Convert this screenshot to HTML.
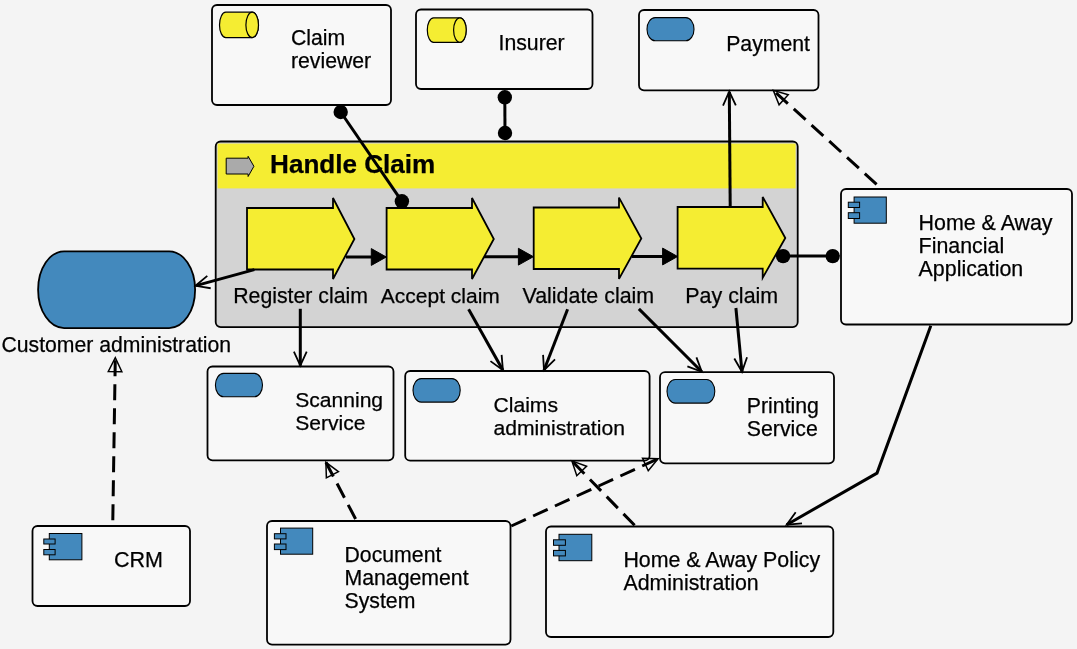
<!DOCTYPE html>
<html><head><meta charset="utf-8"><style>
html,body{margin:0;padding:0;background:#f4f4f4;}
svg{display:block;font-family:"Liberation Sans", sans-serif;will-change:transform;}
</style></head><body>
<svg width="1077" height="649" viewBox="0 0 1077 649">
<rect x="0" y="0" width="1077" height="649" fill="#f4f4f4"/>
<rect x="215.7" y="141.5" width="582" height="185.6" rx="5" fill="#d3d3d3" stroke="#000" stroke-width="1.8"/>
<rect x="217.6" y="143.6" width="578" height="44.8" fill="#f5ed32"/>
<path d="M226.2,158.2 L248.1,158.2 L248.1,156.3 L253.9,166.3 L248.1,176.5 L248.1,174 L226.2,174 Z" fill="#aaa" stroke="#000" stroke-width="1"/>
<path d="M247,208 L333,208 L333,198 L354.4,239 L333,279 L333,269.5 L247,269.5 Z" fill="#f5ed32" stroke="#000" stroke-width="1.8" stroke-linejoin="miter"/>
<path d="M386.6,208 L472,208 L472,198 L493.8,239 L472,279 L472,269.5 L386.6,269.5 Z" fill="#f5ed32" stroke="#000" stroke-width="1.8" stroke-linejoin="miter"/>
<path d="M533.7,207.5 L619,207.5 L619,197.6 L641.3,238.5 L619,278.9 L619,269 L533.7,269 Z" fill="#f5ed32" stroke="#000" stroke-width="1.8" stroke-linejoin="miter"/>
<path d="M677.6,207 L762.7,207 L762.7,197 L785.3,238 L762.7,277.8 L762.7,268.6 L677.6,268.6 Z" fill="#f5ed32" stroke="#000" stroke-width="1.8" stroke-linejoin="miter"/>
<rect x="212" y="5" width="179" height="100" rx="5" fill="#f8f8f8" stroke="#000" stroke-width="1.8"/>
<path d="M225.8,12.2 L252.2,12.2 A6.3,12.700000000000001 0 0 1 252.2,37.6 L225.8,37.6 A6.3,12.700000000000001 0 0 1 225.8,12.2 Z" fill="#f5ed32" stroke="#000" stroke-width="1.2"/>
<ellipse cx="252.2" cy="24.9" rx="6.3" ry="12.700000000000001" fill="#f5ed32" stroke="#000" stroke-width="1.2"/>
<rect x="416" y="9.5" width="176.5" height="79.5" rx="5" fill="#f8f8f8" stroke="#000" stroke-width="1.8"/>
<path d="M433.6,17.8 L459.9,17.8 A6.3,12.249999999999998 0 0 1 459.9,42.3 L433.6,42.3 A6.3,12.249999999999998 0 0 1 433.6,17.8 Z" fill="#f5ed32" stroke="#000" stroke-width="1.2"/>
<ellipse cx="459.9" cy="30.049999999999997" rx="6.3" ry="12.249999999999998" fill="#f5ed32" stroke="#000" stroke-width="1.2"/>
<rect x="639" y="10" width="179.5" height="80.3" rx="5" fill="#f8f8f8" stroke="#000" stroke-width="1.8"/>
<rect x="647" y="17.6" width="47" height="23.1" rx="8.2" ry="11.55" fill="#4389bd" stroke="#000" stroke-width="1.1"/>
<rect x="841" y="189" width="231" height="135.5" rx="5" fill="#f8f8f8" stroke="#000" stroke-width="1.8"/>
<rect x="854.1" y="197" width="32.19999999999993" height="26.19999999999999" fill="#4389bd" stroke="#000" stroke-width="1"/>
<rect x="848.3" y="202.2" width="11.300000000000068" height="5.300000000000011" fill="#4389bd" stroke="#000" stroke-width="1"/>
<rect x="848.3" y="212.7" width="11.300000000000068" height="5.800000000000011" fill="#4389bd" stroke="#000" stroke-width="1"/>
<rect x="207.5" y="366.5" width="186.0" height="93.80000000000001" rx="5" fill="#f8f8f8" stroke="#000" stroke-width="1.8"/>
<rect x="215.4" y="373.4" width="47.099999999999994" height="23.400000000000034" rx="8.2" ry="11.700000000000017" fill="#4389bd" stroke="#000" stroke-width="1.1"/>
<rect x="405.2" y="371" width="244.40000000000003" height="89.69999999999999" rx="5" fill="#f8f8f8" stroke="#000" stroke-width="1.8"/>
<rect x="413" y="378.6" width="47.19999999999999" height="23.5" rx="8.2" ry="11.75" fill="#4389bd" stroke="#000" stroke-width="1.1"/>
<rect x="660" y="372.2" width="174" height="91.10000000000002" rx="5" fill="#f8f8f8" stroke="#000" stroke-width="1.8"/>
<rect x="667" y="379.5" width="47.799999999999955" height="23.600000000000023" rx="8.2" ry="11.800000000000011" fill="#4389bd" stroke="#000" stroke-width="1.1"/>
<rect x="32.5" y="526" width="157.5" height="80" rx="5" fill="#f8f8f8" stroke="#000" stroke-width="1.8"/>
<rect x="49.3" y="533.5" width="32.60000000000001" height="26.299999999999955" fill="#4389bd" stroke="#000" stroke-width="1"/>
<rect x="43.8" y="539" width="11.300000000000004" height="5" fill="#4389bd" stroke="#000" stroke-width="1"/>
<rect x="43.8" y="549.5" width="11.300000000000004" height="5.2999999999999545" fill="#4389bd" stroke="#000" stroke-width="1"/>
<rect x="267" y="521" width="243.5" height="123.60000000000002" rx="5" fill="#f8f8f8" stroke="#000" stroke-width="1.8"/>
<rect x="280.5" y="528.1" width="32.19999999999999" height="26.100000000000023" fill="#4389bd" stroke="#000" stroke-width="1"/>
<rect x="274.4" y="533.7" width="11.600000000000023" height="5.199999999999932" fill="#4389bd" stroke="#000" stroke-width="1"/>
<rect x="274.4" y="544" width="11.600000000000023" height="5.600000000000023" fill="#4389bd" stroke="#000" stroke-width="1"/>
<rect x="546" y="526.5" width="287.29999999999995" height="110.5" rx="5" fill="#f8f8f8" stroke="#000" stroke-width="1.8"/>
<rect x="559" y="534.3" width="32.799999999999955" height="26.40000000000009" fill="#4389bd" stroke="#000" stroke-width="1"/>
<rect x="553.5" y="539.8" width="11.899999999999977" height="5.5" fill="#4389bd" stroke="#000" stroke-width="1"/>
<rect x="553.5" y="550.4" width="11.899999999999977" height="5.5" fill="#4389bd" stroke="#000" stroke-width="1"/>
<rect x="38.1" y="251.3" width="157" height="76.8" rx="26" ry="38.4" fill="#4389bd" stroke="#000" stroke-width="1.8"/>
<path d="M340.7,112 L401.9,201.3" fill="none" stroke="#000" stroke-width="3"/>
<circle cx="340.7" cy="112" r="7.2" fill="#000"/>
<circle cx="401.9" cy="201.3" r="7.2" fill="#000"/>
<path d="M504.8,97.3 L505,133" fill="none" stroke="#000" stroke-width="3"/>
<circle cx="504.8" cy="97.3" r="7.2" fill="#000"/>
<circle cx="505" cy="133" r="7.2" fill="#000"/>
<path d="M730.2,206 L729.3,92" fill="none" stroke="#000" stroke-width="3"/>
<path d="M735.81,105.45 L729.3,91.5 L723.01,105.55" fill="none" stroke="#000" stroke-width="1.8"/>
<path d="M783.1,256.1 L832.7,256.1" fill="none" stroke="#000" stroke-width="3"/>
<circle cx="783.1" cy="256.1" r="7.2" fill="#000"/>
<circle cx="832.7" cy="256.1" r="7.2" fill="#000"/>
<path d="M345.8,257 L376.3,257" fill="none" stroke="#000" stroke-width="3"/>
<path d="M371.30,265.40 L386.3,257 L371.30,248.60 Z" fill="#000" stroke="#000" stroke-width="1"/>
<path d="M484,256.7 L523.4,256.7" fill="none" stroke="#000" stroke-width="3"/>
<path d="M518.40,265.10 L533.4,256.7 L518.40,248.30 Z" fill="#000" stroke="#000" stroke-width="1"/>
<path d="M632,256.5 L667.6,256.5" fill="none" stroke="#000" stroke-width="3"/>
<path d="M662.60,264.90 L677.6,256.5 L662.60,248.10 Z" fill="#000" stroke="#000" stroke-width="1"/>
<path d="M254.4,269.6 L196,285.6" fill="none" stroke="#000" stroke-width="3"/>
<path d="M207.30,275.92 L195.5,285.8 L210.70,288.26" fill="none" stroke="#000" stroke-width="1.8"/>
<path d="M300.3,308.8 L300.3,365.7" fill="none" stroke="#000" stroke-width="3"/>
<path d="M293.90,351.70 L300.3,365.7 L306.70,351.70" fill="none" stroke="#000" stroke-width="1.8"/>
<path d="M468.6,309.2 L502.9,370.2" fill="none" stroke="#000" stroke-width="3"/>
<path d="M490.46,361.13 L502.9,370.2 L501.62,354.86" fill="none" stroke="#000" stroke-width="1.8"/>
<path d="M567.6,309.2 L544,370.2" fill="none" stroke="#000" stroke-width="3"/>
<path d="M543.08,354.83 L544,370.2 L555.02,359.45" fill="none" stroke="#000" stroke-width="1.8"/>
<path d="M638.9,308.9 L701.8,371.8" fill="none" stroke="#000" stroke-width="3"/>
<path d="M687.38,366.43 L701.8,371.8 L696.43,357.38" fill="none" stroke="#000" stroke-width="1.8"/>
<path d="M735.9,308 L742,371.8" fill="none" stroke="#000" stroke-width="3"/>
<path d="M734.30,358.47 L742,371.8 L747.04,357.25" fill="none" stroke="#000" stroke-width="1.8"/>
<path d="M930.8,325.8 L877,473.1 L786.7,524.7" fill="none" stroke="#000" stroke-width="3"/>
<path d="M795.68,512.20 L786.7,524.7 L802.03,523.31" fill="none" stroke="#000" stroke-width="1.8"/>
<path d="M876.6,184.3 L773.3,90.3" fill="none" stroke="#000" stroke-width="3" stroke-dasharray="16 8"/>
<path d="M788.23,94.69 L773.3,90.3 L779.08,104.75 Z" fill="none" stroke="#000" stroke-width="1.5" stroke-linejoin="miter"/>
<path d="M112.8,520.2 L115.3,357.6" fill="none" stroke="#000" stroke-width="3" stroke-dasharray="16 8"/>
<path d="M121.88,371.70 L115.3,357.6 L108.29,371.49 Z" fill="none" stroke="#000" stroke-width="1.5" stroke-linejoin="miter"/>
<path d="M355.6,519 L325.9,462.3" fill="none" stroke="#000" stroke-width="3" stroke-dasharray="16 8"/>
<path d="M338.42,471.55 L325.9,462.3 L326.37,477.86 Z" fill="none" stroke="#000" stroke-width="1.5" stroke-linejoin="miter"/>
<path d="M511.3,526 L658.1,458.7" fill="none" stroke="#000" stroke-width="3" stroke-dasharray="16 8"/>
<path d="M648.21,470.72 L658.1,458.7 L642.54,458.35 Z" fill="none" stroke="#000" stroke-width="1.5" stroke-linejoin="miter"/>
<path d="M634.6,525.3 L571.9,460.9" fill="none" stroke="#000" stroke-width="3" stroke-dasharray="16 8"/>
<path d="M586.54,466.19 L571.9,460.9 L576.79,475.67 Z" fill="none" stroke="#000" stroke-width="1.5" stroke-linejoin="miter"/>
<text x="270.1" y="172.6" font-size="26.09" font-weight="bold" stroke="#000" stroke-width="0.25">Handle Claim</text>
<text x="291.0" y="44.9" font-size="21.23" font-weight="normal" stroke="#000" stroke-width="0.25">Claim</text>
<text x="291.0" y="67.9" font-size="21.23" font-weight="normal" stroke="#000" stroke-width="0.25">reviewer</text>
<text x="498.5" y="49.8" font-size="21.24" font-weight="normal" stroke="#000" stroke-width="0.25">Insurer</text>
<text x="726.2" y="51" font-size="21.24" font-weight="normal" stroke="#000" stroke-width="0.25">Payment</text>
<text x="918.6" y="229.7" font-size="21.4" font-weight="normal" stroke="#000" stroke-width="0.25">Home &amp; Away</text>
<text x="918.6" y="252.7" font-size="21.4" font-weight="normal" stroke="#000" stroke-width="0.25">Financial</text>
<text x="918.6" y="275.7" font-size="21.4" font-weight="normal" stroke="#000" stroke-width="0.25">Application</text>
<text x="295.2" y="406.7" font-size="21.08" font-weight="normal" stroke="#000" stroke-width="0.25">Scanning</text>
<text x="295.2" y="429.7" font-size="21.08" font-weight="normal" stroke="#000" stroke-width="0.25">Service</text>
<text x="493.5" y="411.6" font-size="21.11" font-weight="normal" stroke="#000" stroke-width="0.25">Claims</text>
<text x="493.5" y="434.6" font-size="21.11" font-weight="normal" stroke="#000" stroke-width="0.25">administration</text>
<text x="746.8" y="412.5" font-size="21.29" font-weight="normal" stroke="#000" stroke-width="0.25">Printing</text>
<text x="746.8" y="435.5" font-size="21.29" font-weight="normal" stroke="#000" stroke-width="0.25">Service</text>
<text x="113.9" y="566.5" font-size="21.5" font-weight="normal" stroke="#000" stroke-width="0.25">CRM</text>
<text x="344.5" y="561.5" font-size="21.25" font-weight="normal" stroke="#000" stroke-width="0.25">Document</text>
<text x="344.5" y="584.5" font-size="21.25" font-weight="normal" stroke="#000" stroke-width="0.25">Management</text>
<text x="344.5" y="607.5" font-size="21.25" font-weight="normal" stroke="#000" stroke-width="0.25">System</text>
<text x="623.4" y="567.4" font-size="21.37" font-weight="normal" stroke="#000" stroke-width="0.25">Home &amp; Away Policy</text>
<text x="623.4" y="590.4" font-size="21.37" font-weight="normal" stroke="#000" stroke-width="0.25">Administration</text>
<text x="1.5" y="351.5" font-size="21.19" font-weight="normal" stroke="#000" stroke-width="0.25">Customer administration</text>
<text x="233.25" y="302.9" font-size="21.28" font-weight="normal" stroke="#000" stroke-width="0.25">Register claim</text>
<text x="380.85" y="302.9" font-size="20.99" font-weight="normal" stroke="#000" stroke-width="0.25">Accept claim</text>
<text x="522.5" y="302.9" font-size="21.42" font-weight="normal" stroke="#000" stroke-width="0.25">Validate claim</text>
<text x="685.3" y="302.9" font-size="21.43" font-weight="normal" stroke="#000" stroke-width="0.25">Pay claim</text>
</svg></body></html>
